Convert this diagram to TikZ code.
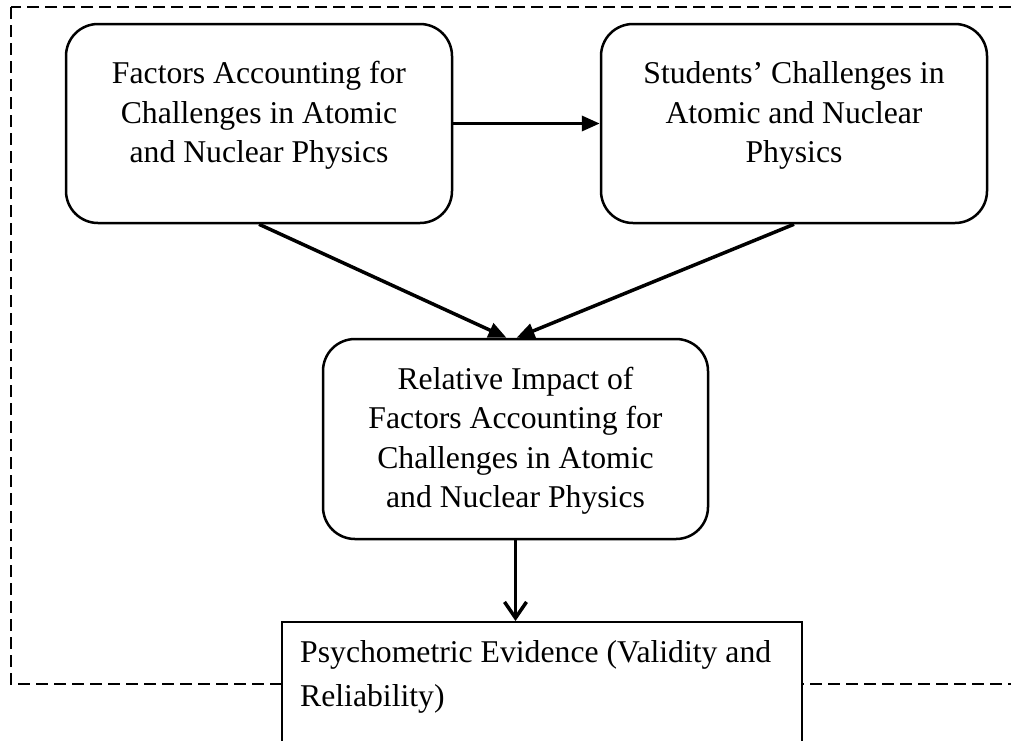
\documentclass[tikz,border=0pt]{standalone}
\usepackage{fontspec}
\setmainfont{Liberation Serif}
\usetikzlibrary{arrows.meta}
\begin{document}
\begin{tikzpicture}[x=1pt,y=-1pt,
  rbox/.style={draw=black, line width=2.5pt, rounded corners=32pt, fill=white, inner sep=0pt},
  txt/.style={font=\fontsize{31.7}{39.5}\selectfont, align=center, inner sep=0pt},
  arr/.style={line width=3.5pt, -{Triangle[length=18pt,width=15pt]}},
  varr/.style={line width=3.5pt, -{Straight Barb[length=16pt,width=22pt]}},
  frame/.style={draw=black, line width=2pt, dash pattern=on 12pt off 6pt}]
\useasboundingbox (0,0) rectangle (1011,740);
\clip (0,0) rectangle (1011,740);
\draw[frame] (11,7) rectangle (1040,684);
\node[rbox, minimum width=386pt, minimum height=199pt] (f) at (259,123.5) {};
\node[txt] (ft) at (259,115.5) {Factors Accounting for\\Challenges in Atomic\\and Nuclear Physics};
\node[rbox, minimum width=386pt, minimum height=199pt] (s) at (794,123.5) {};
\node[txt] (st) at (794,115.5) {Students’ Challenges in\\Atomic and Nuclear\\Physics};
\node[rbox, minimum width=385pt, minimum height=200pt] (r) at (515.5,439) {};
\node[txt] (rt) at (515.5,440.5) {Relative Impact of\\Factors Accounting for\\Challenges in Atomic\\and Nuclear Physics};
\node[draw=black, line width=2.2pt, fill=white, minimum width=520pt, minimum height=170pt, inner sep=0pt, anchor=north] (p) at (542,621) {};
\node[txt, align=left, anchor=north west, font=\fontsize{31.7}{44}\selectfont] (pt) at (300,640) {Psychometric Evidence (Validity and\\Reliability)};
\draw[arr] (f.east) -- (s.west);
\draw[arr] (f.south) -- ([xshift=-9pt]r.north);
\draw[arr] (s.south) -- ([xshift=1pt]r.north);
\draw[varr] (r.south) -- (r.south |- p.north);
\end{tikzpicture}
\end{document}
